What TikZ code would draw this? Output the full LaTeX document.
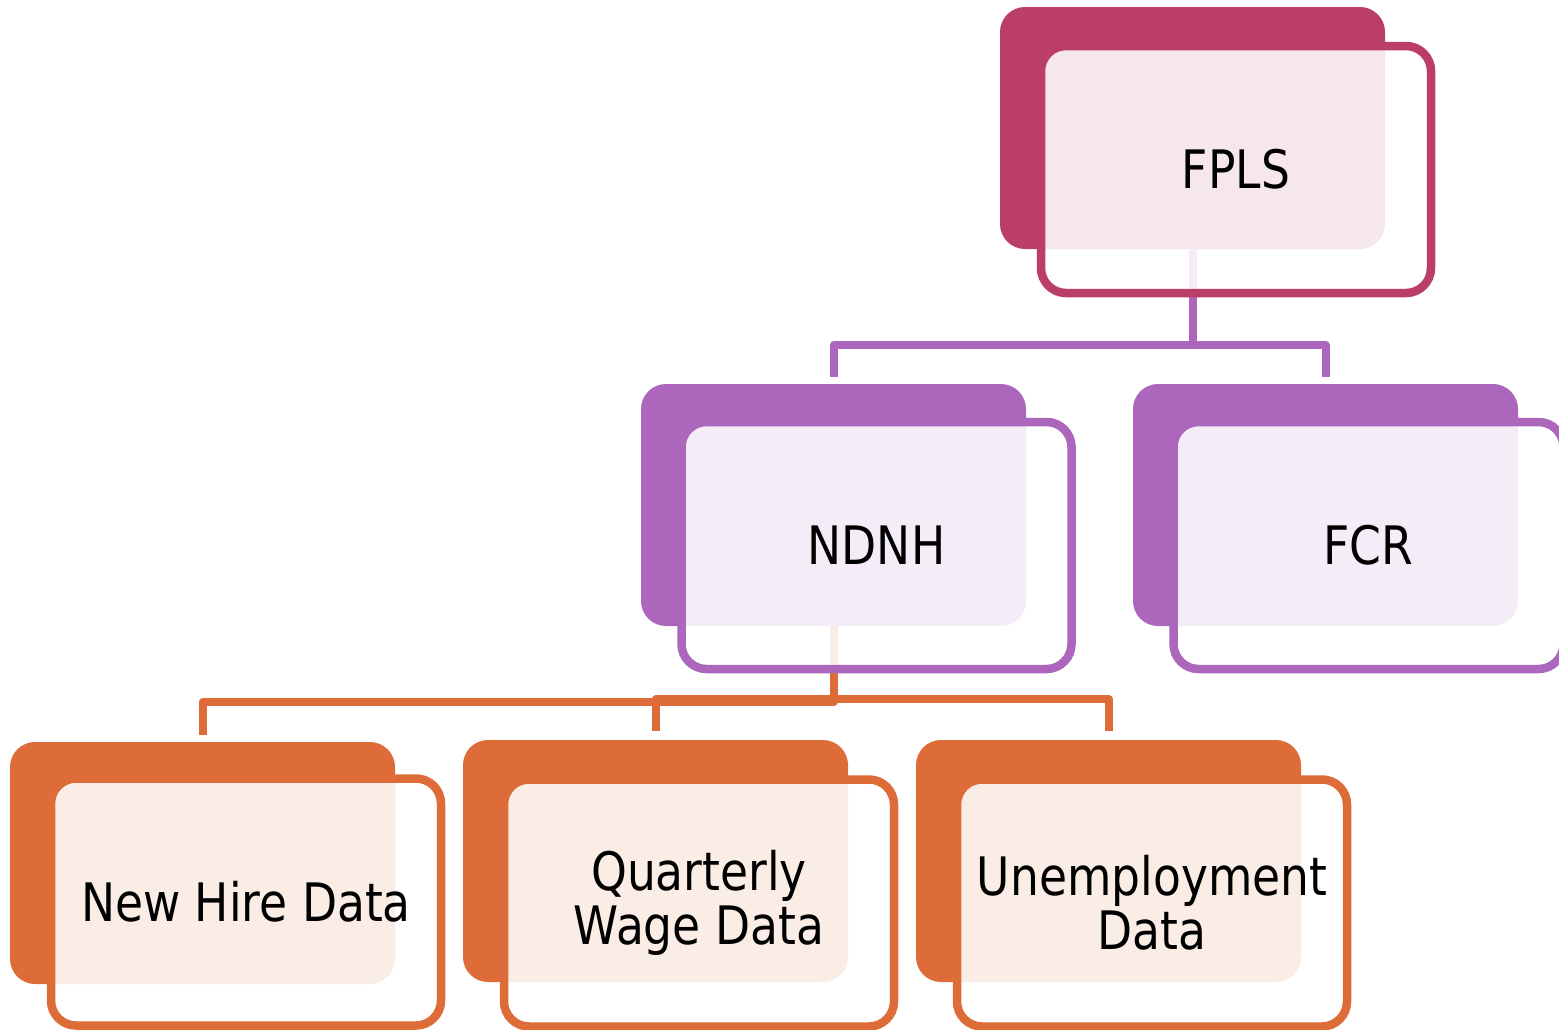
\documentclass[tikz,border=0pt]{standalone}
\usepackage{fontspec}
\newfontfamily\boxfont[FakeStretch=0.86]{DejaVu Sans}
\definecolor{cmag}{RGB}{187,61,106}
\definecolor{cpur}{RGB}{172,102,187}
\definecolor{corg}{RGB}{222,108,56}
\tikzset{
  backbox/.style={rectangle, rounded corners=25pt, minimum width=385pt, minimum height=242pt, inner sep=0pt, outer sep=0pt},
  frontbox/.style={rectangle, rounded corners=25pt, minimum width=390pt, minimum height=247pt, inner sep=0pt, outer sep=0pt,
     line width=8.5pt, fill=white, fill opacity=0.88, text opacity=1, draw opacity=1, align=center,
     font=\boxfont\fontsize{53}{54}\selectfont},
  conn/.style={line width=8pt, line join=round},
}
\begin{document}
\begin{tikzpicture}[x=1pt,y=-1pt]
\useasboundingbox (0,0) rectangle (1559,1029);
% back boxes
\node[backbox, fill=cmag] (fplsB) at (1192.5,128) {};
\node[backbox, fill=cpur] (ndnhB) at (833.5,505) {};
\node[backbox, fill=cpur] (fcrB) at (1325.5,505) {};
\node[backbox, fill=corg] (nhB) at (202.5,863) {};
\node[backbox, fill=corg] (qwB) at (655.5,861) {};
\node[backbox, fill=corg] (udB) at (1108.5,861) {};
% bus coordinates
\coordinate (bus1) at (0,345);
\coordinate (bus2) at (0,702);
\coordinate (bus3) at (0,699);
% connectors
\draw[conn, cpur, shorten >=7pt] (fplsB.south) -- (fplsB.south |- bus1) -| (ndnhB.north);
\draw[conn, cpur, shorten >=7pt] (fplsB.south |- bus1) -| (fcrB.north);
\draw[conn, corg, shorten >=7pt] (ndnhB.south) -- (ndnhB.south |- bus2) -| (nhB.north);
\draw[conn, corg, shorten <=9pt, shorten >=9pt] (qwB.north) -- (qwB.north |- bus3) -- (udB.north |- bus3) -- (udB.north);
% front boxes
\node[frontbox, draw=cmag] (fpls) at (1236,169.5) {FPLS};
\node[frontbox, draw=cpur] (ndnh) at (876.5,545.5) {NDNH};
\node[frontbox, draw=cpur] (fcr) at (1368.5,545.5) {FCR};
\node[frontbox, draw=corg] (nh) at (246,902) {New Hire Data};
\node[frontbox, draw=corg] (qw) at (699,903) {Quarterly\\Wage Data};
\node[frontbox, draw=corg] (ud) at (1152,903) {Unemployment\\Data};
\end{tikzpicture}
\end{document}
